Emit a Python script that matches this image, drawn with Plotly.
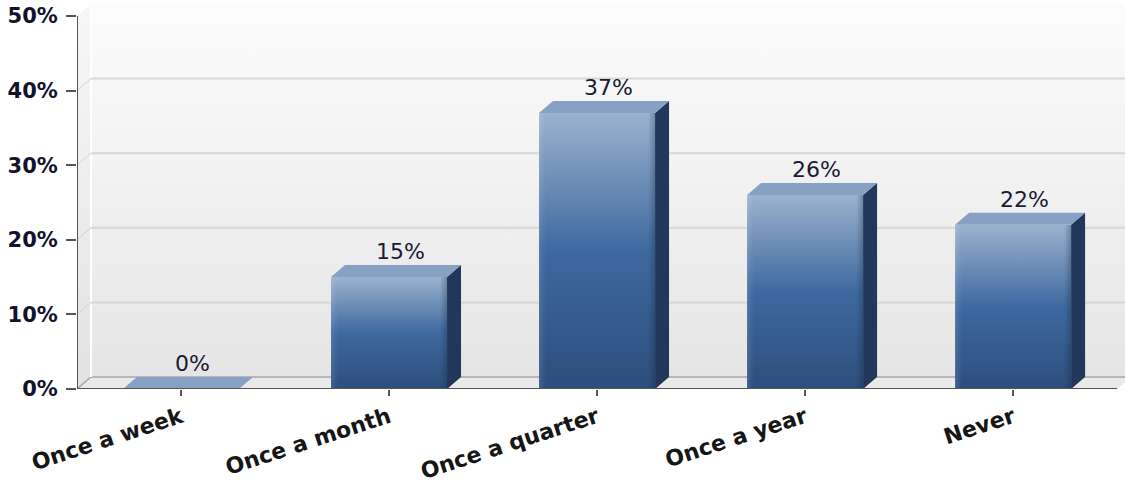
import plotly.graph_objects as go

# Survey answers: how often respondents do it
categories = ["Once a week", "Once a month", "Once a quarter", "Once a year", "Never"]
shares = [0, 15, 37, 26, 22]          # percent of respondents
y_ticks = [0, 10, 20, 30, 40, 50]

# Canvas / plot-area geometry
W, H = 1125, 492
ML, MR, MT, MB = 77, 0, 3, 103
X_RANGE = [-0.5, 4.538]
Y_RANGE = [0, 51.74]
SX = (W - ML - MR) / (X_RANGE[1] - X_RANGE[0])   # px per x unit
SY = (H - MT - MB) / (Y_RANGE[1] - Y_RANGE[0])   # px per y unit

# 3-D depth of the box and bars, in pixels -> data units
DX = 14 / SX
DY = 12 / SY
HALF_W = 58 / SX
X0 = -0.5
X1 = len(categories) - 0.5
Y_TOP = y_ticks[-1]

fig = go.Figure()


def poly(xs, ys, **kw):
    fig.add_trace(go.Scatter(
        x=list(xs) + [xs[0]], y=list(ys) + [ys[0]],
        mode="lines", fill="toself", hoverinfo="skip", showlegend=False,
        line=dict(width=0), **kw))


def seg(xs, ys, color, width):
    fig.add_trace(go.Scatter(
        x=xs, y=ys, mode="lines", hoverinfo="skip", showlegend=False,
        line=dict(color=color, width=width)))


# back wall
poly([X0 + DX, X_RANGE[1] + 1, X_RANGE[1] + 1, X0 + DX],
     [DY, DY, Y_TOP + DY, Y_TOP + DY],
     fillgradient=dict(type="vertical",
                       colorscale=[[0, "#e5e5e5"], [1, "#fcfcfc"]]))
# left side wall
poly([X0, X0 + DX, X0 + DX, X0],
     [0, DY, Y_TOP + DY, Y_TOP],
     fillgradient=dict(type="vertical",
                       colorscale=[[0, "#e2e2e2"], [1, "#f7f7f7"]]))
# floor
poly([X0, X1, X1 + DX, X0 + DX], [0, 0, DY, DY], fillcolor="#e9e9e9")
seg([X0, X0 + DX, X_RANGE[1] + 1], [0, DY, DY], "#a8a8a8", 1.5)
# edge between side wall and back wall
seg([X0 + DX, X0 + DX], [DY, Y_TOP + DY], "#ffffff", 2)

# gridlines
for t in y_ticks[1:-1]:
    seg([X0 + DX, X_RANGE[1] + 1], [t + DY, t + DY], "#d7d7d7", 2)
    seg([X0, X0 + DX], [t, t + DY], "#d2d2d2", 1)

# bars
for i, v in enumerate(shares):
    L, R = i - HALF_W, i + HALF_W
    # front face
    poly([L, R, R, L], [0, 0, v, v],
         fillgradient=dict(type="vertical",
                           colorscale=[[0, "#2d4e7c"], [0.5, "#3e69a0"],
                                       [1, "#9cb2ce"]]))
    # soft edge shading on the front face
    poly([L, R, R, L], [0, 0, v, v],
         fillgradient=dict(type="horizontal",
                           colorscale=[[0, "rgba(255,255,255,0.10)"],
                                       [0.06, "rgba(255,255,255,0)"],
                                       [0.94, "rgba(20,35,60,0)"],
                                       [1, "rgba(20,35,60,0.30)"]]))
    # side face
    poly([R, R + DX, R + DX, R], [0, DY, v + DY, v], fillcolor="#22385a")
    # top face
    poly([L, R, R + DX, L + DX], [v, v, v + DY, v + DY], fillcolor="#86a1c4")

# axis lines
seg([X0, X0], [0, Y_TOP], "#555555", 2)
seg([X0, X1], [0, 0], "#555555", 2)

# value labels
for i, v in enumerate(shares):
    fig.add_annotation(x=i + DX / 2 + 0.02, y=v + DY, text=f"{v}%",
                       showarrow=False, yanchor="bottom", yshift=-1,
                       font=dict(family="DejaVu Sans", size=22, color="#1a1a34"))

fig.update_layout(
    width=W, height=H,
    margin=dict(l=ML, r=MR, t=MT, b=MB, pad=0),
    paper_bgcolor="#ffffff", plot_bgcolor="#ffffff",
    xaxis=dict(range=X_RANGE, tickmode="array",
               tickvals=list(range(len(categories))), ticktext=categories,
               tickangle=-18, ticks="outside", ticklen=6, tickwidth=1.5,
               tickcolor="#555555", showgrid=False, zeroline=False,
               showline=False, fixedrange=True,
               tickfont=dict(family="DejaVu Sans", size=22, color="#161616",
                             weight="bold")),
    yaxis=dict(range=Y_RANGE, tickmode="array", tickvals=y_ticks,
               ticktext=[f"{t}%" for t in y_ticks],
               ticks="outside", ticklen=10, tickwidth=1.5, tickcolor="#555555",
               ticklabelstandoff=4,
               showgrid=False, zeroline=False, showline=False, fixedrange=True,
               tickfont=dict(family="DejaVu Sans", size=21, color="#12122c",
                             weight="bold")),
)

fig.write_html("out.html")
